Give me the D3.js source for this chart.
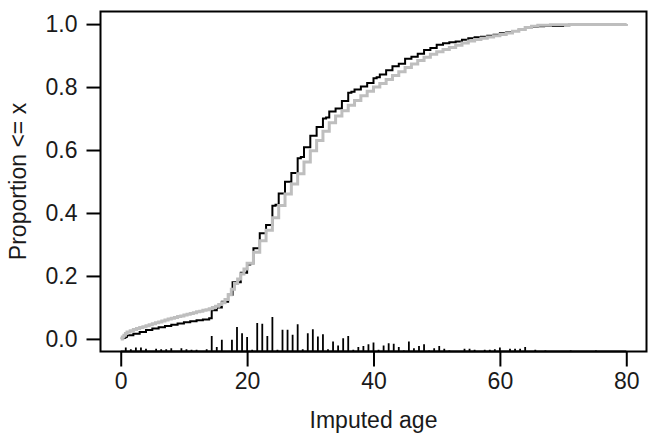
<!DOCTYPE html>
<html><head><meta charset="utf-8">
<script src="https://cdn.jsdelivr.net/npm/d3@7"></script>
<style>
html,body{margin:0;padding:0;background:#fff;}
svg{display:block;font-family:"Liberation Sans",Arial,Helvetica,sans-serif;}
</style></head><body>
<svg id="chart" width="651" height="443"></svg>
<script>
// ---- Data ----
// Observed ages: empirical CDF (black)
const blackAge = [0.17,0.42,0.67,0.83,1,2,3,4,5,6,7,8,9,10,11,12,13,14,14.4,15.2,16,17,17.7,19,20,20.5,21,22,23,24,24.5,25,26,27,28,28.5,29,30,31,32,32.5,33,34,35,36,36.5,37,38,39,40,40.5,41,42,43,44,45,46,47,48,49,50,51,52,53,54,55,56,57,58,59,60,61,62,63,64,65,66,67,70,71,74,80];
const blackProp = [0.002,0.003,0.005,0.007,0.012,0.016,0.022,0.028,0.033,0.037,0.041,0.045,0.049,0.053,0.056,0.059,0.062,0.066,0.091,0.100,0.118,0.140,0.180,0.210,0.236,0.240,0.288,0.336,0.362,0.423,0.426,0.462,0.499,0.527,0.574,0.578,0.609,0.645,0.673,0.700,0.703,0.722,0.732,0.756,0.782,0.785,0.792,0.802,0.813,0.828,0.831,0.840,0.853,0.866,0.874,0.890,0.896,0.906,0.918,0.924,0.934,0.939,0.942,0.945,0.950,0.955,0.958,0.960,0.963,0.966,0.971,0.974,0.978,0.982,0.988,0.991,0.993,0.994,0.996,0.998,0.999,1.000];
// Imputed ages: empirical CDF (gray)
const grayAge = [0,0.25,0.5,0.75,1,1.5,2,2.5,3,3.5,4,4.5,5,5.5,6,6.5,7,7.5,8,8.5,9,9.5,10,10.5,11,11.5,12,12.5,13,13.5,14,14.5,15,15.5,16,16.5,17,17.5,18,18.5,19,19.5,20,21,22,23,24,25,26,27,28,29,30,31,32,33,34,35,36,37,38,39,40,41,42,43,44,45,46,47,48,49,50,51,52,53,54,55,56,57,58,59,60,61,62,63,64,65,66,68,71,80];
const grayProp = [0,0.006,0.012,0.017,0.022,0.026,0.030,0.033,0.036,0.039,0.042,0.045,0.048,0.051,0.054,0.057,0.060,0.063,0.066,0.068,0.071,0.073,0.076,0.078,0.081,0.083,0.086,0.088,0.091,0.093,0.096,0.100,0.104,0.109,0.115,0.125,0.140,0.158,0.176,0.190,0.206,0.222,0.240,0.275,0.312,0.345,0.385,0.424,0.460,0.492,0.525,0.562,0.598,0.630,0.660,0.687,0.708,0.725,0.742,0.757,0.772,0.787,0.800,0.811,0.824,0.837,0.849,0.862,0.873,0.884,0.895,0.904,0.912,0.919,0.926,0.933,0.940,0.946,0.951,0.955,0.959,0.963,0.967,0.972,0.977,0.983,0.989,0.993,0.996,0.998,0.999,1.000];
// Spike histogram of observed ages (bin position, count)
const spikeAge = [0.8,1.6,2.4,3.2,4.0,5.6,6.4,7.2,8.0,9.6,10.4,11.2,12.0,13.6,14.4,15.2,16.0,17.6,18.4,19.2,20.0,20.8,21.6,22.4,23.2,24.0,24.8,25.6,26.4,27.2,28.0,28.8,29.6,30.4,31.2,32.0,32.8,33.6,34.4,35.2,36.0,36.8,37.6,38.4,39.2,40.0,40.8,41.6,42.4,43.2,44.0,44.8,45.6,46.4,47.2,48.0,48.8,49.6,50.4,51.2,52.0,54.4,55.2,56.0,57.6,58.4,59.2,60.0,61.6,62.4,63.2,64.0,65.6,67.2,71.2,75.2];
const spikeCount = [7,4,7,7,5,5,4,4,6,6,4,3,3,4,28,8,21,21,44,33,26,3,51,50,28,62,3,39,39,30,49,4,33,40,27,31,4,18,11,24,28,3,8,10,13,16,3,11,15,14,8,2,18,6,10,13,2,6,10,5,2,5,5,3,3,3,4,7,5,5,5,8,3,2,2,2];
const xTicks = [0,20,40,60,80];
const yTicks = [0,0.2,0.4,0.6,0.8,1.0];
const xLabel = "Imputed age";
const yLabel = "Proportion <= x";

// ---- Layout ----
const box = {left:100.5, right:646.5, top:11.5, bottom:351.5};
const svg = d3.select("#chart");
const x = d3.scaleLinear().domain([-3.2, 83.2]).range([box.left, box.right]);
const y = d3.scaleLinear().domain([-0.04, 1.04]).range([box.bottom, box.top]);
const spikeH = d3.scaleLinear().domain([0, d3.max(spikeCount)]).range([0, 34.5]);

svg.append("defs").append("clipPath").attr("id","clip")
  .append("rect").attr("x",box.left).attr("y",box.top)
  .attr("width",box.right-box.left).attr("height",box.bottom-box.top);

const plot = svg.append("g").attr("clip-path","url(#clip)");

// spikes
plot.selectAll("line.spike").data(spikeAge.map((a,i)=>({a, c:spikeCount[i]})))
  .join("line").attr("class","spike")
  .attr("x1",d=>x(d.a)).attr("x2",d=>x(d.a))
  .attr("y1",box.bottom).attr("y2",d=>box.bottom-spikeH(d.c))
  .attr("stroke","#000").attr("stroke-width",1.8);

const line = d3.line().x(d=>x(d[0])).y(d=>y(d[1])).curve(d3.curveStepAfter);
const blackPts = [[blackAge[0],0]].concat(blackAge.map((a,i)=>[a,blackProp[i]]));
const grayPts = grayAge.map((a,i)=>[a,grayProp[i]]);

plot.append("path").attr("d",line(blackPts)).attr("fill","none")
  .attr("stroke","#000").attr("stroke-width",2);
plot.append("path").attr("d",line(grayPts)).attr("fill","none")
  .attr("stroke","#bebebe").attr("stroke-width",3);

// box
svg.append("rect").attr("x",box.left).attr("y",box.top)
  .attr("width",box.right-box.left).attr("height",box.bottom-box.top)
  .attr("fill","none").attr("stroke","#000").attr("stroke-width",2);

// axes
const fs = 23;
const xAxis = d3.axisBottom(x).tickValues(xTicks).tickFormat(d3.format("d")).tickSize(15).tickPadding(6);
const gx = svg.append("g").attr("transform",`translate(0,${box.bottom})`).call(xAxis);
const yAxis = d3.axisLeft(y).tickValues(yTicks).tickFormat(d3.format(".1f")).tickSize(14).tickPadding(9);
const gy = svg.append("g").attr("transform",`translate(${box.left},0)`).call(yAxis);
[gx,gy].forEach(g=>{
  g.select(".domain").remove();
  g.selectAll(".tick line").attr("stroke","#000").attr("stroke-width",2);
  g.selectAll(".tick text").attr("fill","#1a1a1a").style("font-size",fs+"px")
   .style("font-family","'Liberation Sans',Arial,sans-serif");
});
// R-style axis line along the ticks
svg.append("line").attr("x1",x(0)).attr("x2",x(80)).attr("y1",box.bottom).attr("y2",box.bottom)
  .attr("stroke","#000").attr("stroke-width",2);

svg.append("text").attr("x",(box.left+box.right)/2).attr("y",428)
  .attr("text-anchor","middle").style("font-size",fs+"px").attr("fill","#1a1a1a").text(xLabel);
svg.append("text").attr("transform",`translate(26,${(box.top+box.bottom)/2}) rotate(-90)`)
  .attr("text-anchor","middle").style("font-size",fs+"px").attr("fill","#1a1a1a").text(yLabel);
</script>
</body></html>
